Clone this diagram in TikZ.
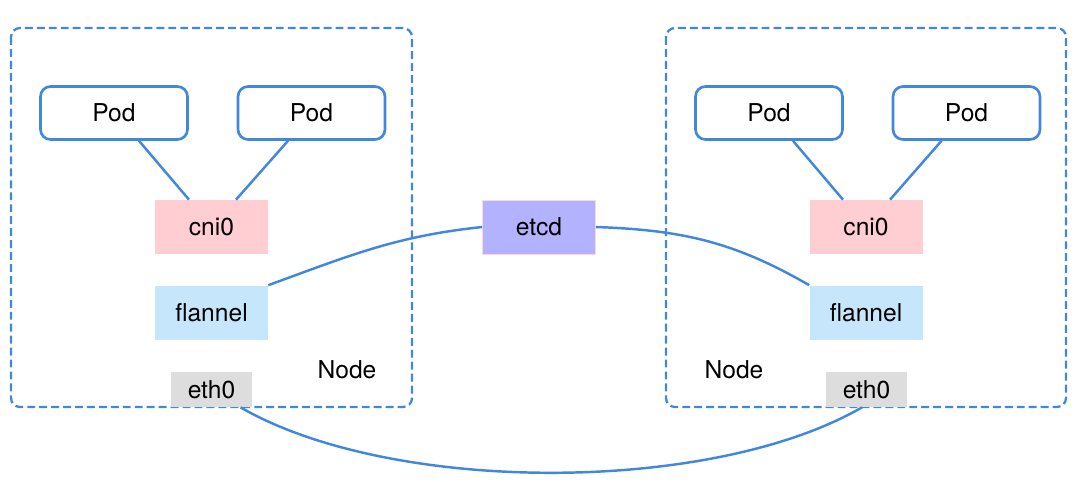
\documentclass[tikz,border=0pt]{standalone}
\usepackage{fontspec}
\setmainfont{TeX Gyre Heros}
\definecolor{linkblue}{RGB}{66,135,222}
\definecolor{cnipink}{RGB}{255,206,210}
\definecolor{flanblue}{RGB}{198,230,252}
\definecolor{etcdpurple}{RGB}{178,178,255}
\definecolor{ethgray}{RGB}{221,221,221}
\tikzset{
  pod/.style={draw=linkblue, line width=1.5pt, rounded corners=0.2cm, fill=white, minimum width=2.94cm, minimum height=1.06cm},
  iface/.style={minimum width=2.26cm, minimum height=1.08cm},
  nodebox/.style={draw=linkblue, line width=1.3pt, dash pattern=on 4.5pt off 2.3pt, rounded corners=0.18cm},
  link/.style={draw=linkblue, line width=1.4pt}
}
\begin{document}
\begin{tikzpicture}[x=0.02cm, y=-0.02cm, font=\fontsize{14}{16}\selectfont]
  \useasboundingbox (0,0) rectangle (1078,481);

  \draw[nodebox] (11,28) rectangle (412,407);
  \draw[nodebox] (666,28) rectangle (1066,407);

  \node[pod] (podLa) at (114,113) {Pod};
  \node[pod] (podLb) at (311.5,113) {Pod};
  \node[iface, fill=cnipink] (cniL) at (211.5,227) {cni0};
  \node[iface, fill=flanblue] (flannelL) at (211.5,312.5) {flannel};
  \node[fill=ethgray, minimum width=1.62cm, minimum height=0.7cm] (ethL) at (211.5,389.5) {eth0};
  \node (nodeL) at (347,370) {Node};

  \node[pod] (podRa) at (769,113) {Pod};
  \node[pod] (podRb) at (966.5,113) {Pod};
  \node[iface, fill=cnipink] (cniR) at (866,227) {cni0};
  \node[iface, fill=flanblue] (flannelR) at (866,312.5) {flannel};
  \node[fill=ethgray, minimum width=1.62cm, minimum height=0.7cm] (ethR) at (866.5,389.5) {eth0};
  \node (nodeR) at (734,370) {Node};

  \node[iface, fill=etcdpurple, draw=pink!60, line width=0.4pt] (etcd) at (539,227) {etcd};

  \draw[link] ([xshift=0.5cm]podLa.south) -- ([xshift=-0.45cm]cniL.north);
  \draw[link] ([xshift=-0.47cm]podLb.south) -- ([xshift=0.49cm]cniL.north);
  \draw[link] ([xshift=0.48cm]podRa.south) -- ([xshift=-0.46cm]cniR.north);
  \draw[link] ([xshift=-0.5cm]podRb.south) -- ([xshift=0.48cm]cniR.north);

  \draw[link] (flannelL.north east) to[out=20, in=186] (etcd.west);
  \draw[link] (etcd.east) to[out=-2, in=150] (flannelR.north west);
  \draw[link] ([xshift=0.58cm]ethL.south) to[out=-30, in=-150, looseness=0.72] ([xshift=-0.09cm]ethR.south);
\end{tikzpicture}
\end{document}
